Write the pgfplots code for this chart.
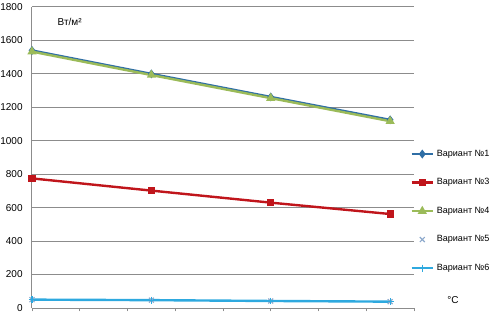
\documentclass[border=0pt]{standalone}
\usepackage{pgfplots}
\pgfplotsset{compat=1.18}
\usepackage{fontspec}
\setmainfont{Liberation Sans}
\definecolor{vone}{HTML}{2F6EA5}
\definecolor{vthree}{HTML}{C0151B}
\definecolor{vfour}{HTML}{9BBB59}
\definecolor{vfive}{HTML}{8DA9CC}
\definecolor{vsix}{HTML}{2EA9DF}
\definecolor{gridc}{HTML}{8C8C8C}
\begin{document}
\begin{tikzpicture}
\begin{axis}[
  name=ax,
  at={(0,0)}, anchor=south west,
  scale only axis,
  width=286.5pt, height=225.75pt,
  xmin=0, xmax=8, ymin=0, ymax=1800,
  xtick={0,1,...,8}, xticklabels={},
  ytick={0,200,...,1800},
  axis x line=bottom, axis y line=left,
  axis line style={draw=gridc, line width=0.75pt, -},
  x axis line style={-}, y axis line style={-},
  ymajorgrids, major grid style={draw=gridc, line width=0.75pt},
  tick align=outside, major tick length=2.5pt,
  tick style={draw=gridc, line width=0.6pt},
  ytick style={draw=none},
  yticklabel style={font=\fontsize{7.5}{9}\selectfont, xshift=-1pt},
  /pgf/number format/assume math mode=true,
  /pgf/number format/1000 sep={},
  clip=false,
  legend style={at={(axis description cs:0.99,0.535)}, anchor=north west,
    draw=none, fill=none, font=\fontsize{6.8}{8.2}\selectfont,
    row sep=11.2pt, inner sep=0pt, cells={anchor=west}},
  legend cell align=left,
  legend image code/.code={\draw[mark repeat=2,mark phase=2,#1] plot coordinates {(0cm,0cm) (0.28cm,0cm) (0.56cm,0cm)};},
]
\addplot[color=vone, line width=1.8pt, mark=diamond*, mark size=1.9pt, mark options={solid}]
  coordinates {(0,1540) (2.5,1400) (5,1262) (7.5,1125)};
\addlegendentry{Вариант №1}
\addplot[color=vthree, line width=1.8pt, mark=square*, mark size=1.8pt]
  coordinates {(0,775) (2.5,702) (5,630) (7.5,562)};
\addlegendentry{Вариант №3}
\addplot[color=vfour, line width=1.8pt, mark=triangle*, mark size=2.2pt]
  coordinates {(0,1533) (2.5,1393) (5,1255) (7.5,1117)};
\addlegendentry{Вариант №4}
\addplot[color=vfive, only marks, mark=x, mark size=2.6pt, line width=0.9pt]
  coordinates {(0,50) (2.5,47) (5,42) (7.5,38)};
\addlegendentry{Вариант №5}
\addplot[color=vsix, line width=1.8pt, mark=+, mark size=2.6pt, mark options={line width=0.9pt}]
  coordinates {(0,50) (2.5,47) (5,42) (7.5,38)};
\addlegendentry{Вариант №6}
\node[anchor=west, font=\fontsize{7.5}{9}\selectfont] at (axis description cs:0.055,0.95) {Вт/м²};
\node[anchor=west, font=\fontsize{7.5}{9}\selectfont] at (axis description cs:1.075,0.027) {°C};
\end{axis}
\pgfresetboundingbox
\useasboundingbox (-24pt,-3.75pt) rectangle (349.5pt,231pt);
\end{tikzpicture}
\end{document}
